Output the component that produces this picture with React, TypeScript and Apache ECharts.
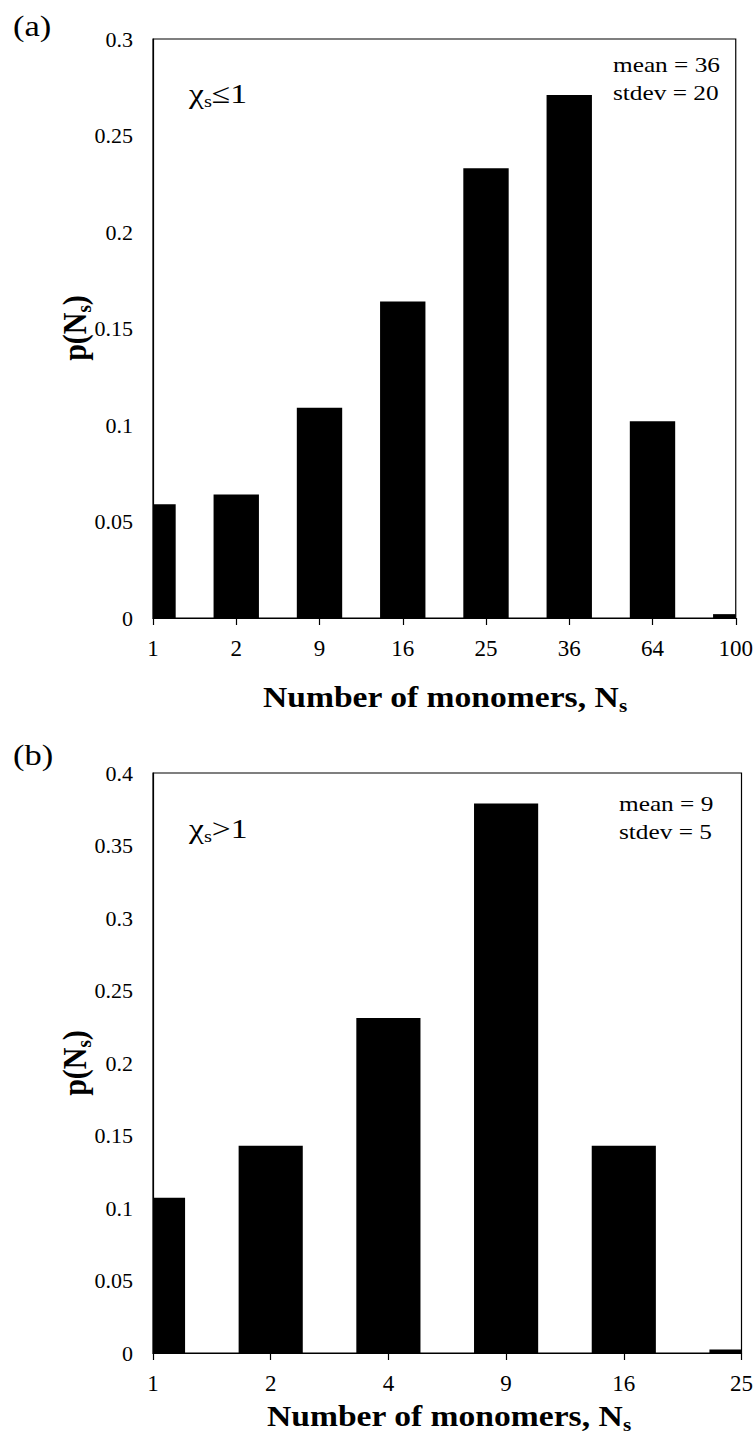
import React, { useEffect, useRef } from "react";
import * as echarts from "echarts";

const catsA = ["1", "2", "9", "16", "25", "36", "64", "100"];
const valsA = [0.059, 0.064, 0.109, 0.164, 0.233, 0.271, 0.102, 0.002];
const catsB = ["1", "2", "4", "9", "16", "25"];
const valsB = [0.107, 0.143, 0.231, 0.379, 0.143, 0.0025];
const yTicksA = { min: 0, max: 0.3, interval: 0.05 };
const yTicksB = { min: 0, max: 0.4, interval: 0.05 };

const FONT = "'Liberation Serif', 'Times New Roman', serif";
const BAR_RATIO = 0.545;
const SX = 1.15;

export default function App() {
  const ref = useRef<HTMLDivElement>(null);
  useEffect(() => {
    if (!ref.current) return;
    const chart = echarts.init(ref.current, undefined, { renderer: "svg" });

    const xAxisFor = (gridIndex: number, cats: string[]) => ({
      type: "value" as const,
      gridIndex,
      min: 0,
      max: cats.length - 1,
      interval: 1,
      axisLine: { show: true, lineStyle: { color: "#000", width: 1.2 } },
      axisTick: { show: true, inside: false, length: 7, lineStyle: { color: "#000", width: 1.2 } },
      axisLabel: {
        color: "#000",
        fontFamily: FONT,
        fontSize: 23,
        margin: 19,
        formatter: (v: number) => cats[Math.round(v)] ?? "",
      },
      splitLine: { show: false },
    });
    const yAxisFor = (gridIndex: number, t: { min: number; max: number; interval: number }) => ({
      type: "value" as const,
      gridIndex,
      min: t.min,
      max: t.max,
      interval: t.interval,
      axisLine: { show: true, lineStyle: { color: "#000", width: 1.2 } },
      axisTick: { show: false },
      axisLabel: { color: "#000", fontFamily: FONT, fontSize: 22, margin: 20 },
      splitLine: { show: false },
    });

    const renderBar = (params: any, api: any) => {
      const i = api.value(0);
      const v = api.value(1);
      const top = api.coord([i, v]);
      const base = api.coord([i, 0]);
      const w = api.size([1, 0])[0] * BAR_RATIO;
      const cs = params.coordSys;
      const shape = echarts.graphic.clipRectByRect(
        { x: top[0] - w / 2, y: top[1], width: w, height: base[1] - top[1] },
        { x: cs.x, y: cs.y, width: cs.width, height: cs.height }
      );
      if (!shape) return null;
      return { type: "rect", shape, style: { fill: "#000" } };
    };

    const titleRich = {
      m: { fontFamily: FONT, fontSize: 30, fontWeight: "bold" as const, color: "#000", lineHeight: 36 },
      s: { fontFamily: FONT, fontSize: 19, fontWeight: "bold" as const, color: "#000", lineHeight: 19, verticalAlign: "bottom" as const },
    };
    const chiRich = {
      m: { fontFamily: FONT, fontSize: 28, color: "#000", lineHeight: 34 },
      s: { fontFamily: FONT, fontSize: 17, color: "#000", lineHeight: 17, verticalAlign: "bottom" as const },
    };

    const txt = (x: number, y: number, text: string, extra: any = {}) => ({
      type: "text",
      x,
      y,
      scaleX: SX,
      style: {
        text,
        fontFamily: FONT,
        fontSize: 22,
        fill: "#000",
        textVerticalAlign: "middle",
        ...extra,
      },
    });

    chart.setOption({
      animation: false,
      grid: [
        { left: 153, top: 39, width: 584, height: 579, show: true, borderColor: "#000", borderWidth: 1.2, backgroundColor: "transparent" },
        { left: 153, top: 773, width: 589, height: 580, show: true, borderColor: "#000", borderWidth: 1.2, backgroundColor: "transparent" },
      ],
      xAxis: [xAxisFor(0, catsA), xAxisFor(1, catsB)],
      yAxis: [yAxisFor(0, yTicksA), yAxisFor(1, yTicksB)],
      series: [
        {
          type: "custom",
          xAxisIndex: 0,
          yAxisIndex: 0,
          renderItem: renderBar,
          encode: { x: 0, y: 1 },
          data: valsA.map((v, i) => [i, v]),
        },
        {
          type: "custom",
          xAxisIndex: 1,
          yAxisIndex: 1,
          renderItem: renderBar,
          encode: { x: 0, y: 1 },
          data: valsB.map((v, i) => [i, v]),
        },
      ],
      graphic: [
        txt(13, 26, "(a)", { fontSize: 30 }),
        txt(13, 755, "(b)", { fontSize: 30 }),
        {
          type: "text",
          x: 189,
          y: 93,
          scaleX: 1.2,
          style: { text: "{m|χ}{s|s}{m|≤1}", rich: chiRich, textVerticalAlign: "middle" },
        },
        {
          type: "text",
          x: 189,
          y: 828,
          scaleX: 1.2,
          style: { text: "{m|χ}{s|s}{m|>1}", rich: chiRich, textVerticalAlign: "middle" },
        },
        txt(613, 65, "mean = 36"),
        txt(613, 93, "stdev = 20"),
        txt(619, 804, "mean = 9"),
        txt(619, 832, "stdev = 5"),
        {
          type: "text",
          x: 445,
          y: 697,
          scaleX: 1.12,
          style: { text: "{m|Number of monomers, N}{s|s}", rich: titleRich, textAlign: "center", textVerticalAlign: "middle" },
        },
        {
          type: "text",
          x: 449,
          y: 1416,
          scaleX: 1.12,
          style: { text: "{m|Number of monomers, N}{s|s}", rich: titleRich, textAlign: "center", textVerticalAlign: "middle" },
        },
        {
          type: "text",
          x: 74,
          y: 328,
          rotation: Math.PI / 2,
          scaleY: 1.15,
          style: { text: "{m|p(N}{s|s}{m|)}", rich: titleRich, textAlign: "center", textVerticalAlign: "middle" },
        },
        {
          type: "text",
          x: 74,
          y: 1063,
          rotation: Math.PI / 2,
          scaleY: 1.15,
          style: { text: "{m|p(N}{s|s}{m|)}", rich: titleRich, textAlign: "center", textVerticalAlign: "middle" },
        },
      ],
    });

    return () => chart.dispose();
  }, []);

  return (
    <div
      ref={ref}
      style={{ position: "absolute", left: 0, top: 0, width: 756, height: 1450, background: "#fff" }}
    />
  );
}
